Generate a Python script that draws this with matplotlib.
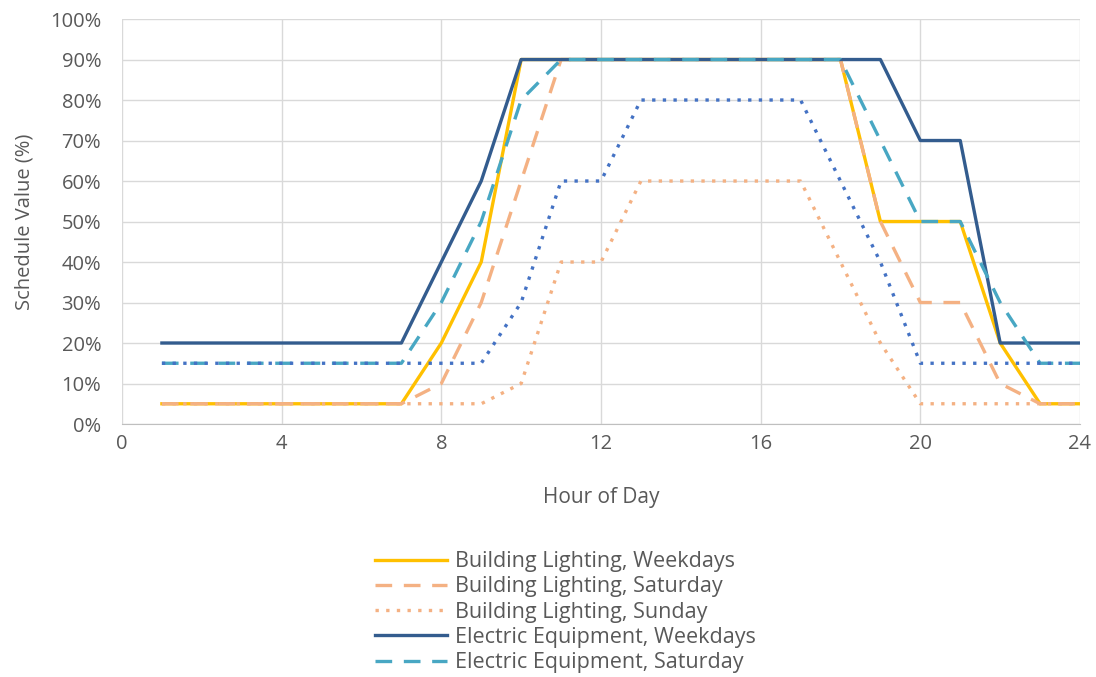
import matplotlib.pyplot as plt
from matplotlib.ticker import PercentFormatter

hours = list(range(1, 25))

light_weekday = [5, 5, 5, 5, 5, 5, 5, 20, 40, 90, 90, 90, 90, 90, 90, 90, 90, 90, 50, 50, 50, 20, 5, 5]
light_saturday = [5, 5, 5, 5, 5, 5, 5, 10, 30, 60, 90, 90, 90, 90, 90, 90, 90, 90, 50, 30, 30, 10, 5, 5]
light_sunday = [5, 5, 5, 5, 5, 5, 5, 5, 5, 10, 40, 40, 60, 60, 60, 60, 60, 40, 20, 5, 5, 5, 5, 5]
equip_weekday = [20, 20, 20, 20, 20, 20, 20, 40, 60, 90, 90, 90, 90, 90, 90, 90, 90, 90, 90, 70, 70, 20, 20, 20]
equip_saturday = [15, 15, 15, 15, 15, 15, 15, 30, 50, 80, 90, 90, 90, 90, 90, 90, 90, 90, 70, 50, 50, 30, 15, 15]
equip_sunday = [15, 15, 15, 15, 15, 15, 15, 15, 15, 30, 60, 60, 80, 80, 80, 80, 80, 60, 40, 15, 15, 15, 15, 15]

plt.rcParams['font.family'] = ['Open Sans', 'DejaVu Sans']
gray = '#595959'

fig = plt.figure(figsize=(10.96, 6.77), dpi=100)
ax = fig.add_axes([0.1113, 0.3737, 0.8741, 0.5982])

series = [
    (light_weekday, 'Building Lighting, Weekdays', '#FFC000', '-'),
    (light_saturday, 'Building Lighting, Saturday', '#F4B183', (0, (5, 3.5))),
    (light_sunday, 'Building Lighting, Sunday', '#F4B183', (0, (1, 2.2))),
    (equip_weekday, 'Electric Equipment, Weekdays', '#335C8E', '-'),
    (equip_saturday, 'Electric Equipment, Saturday', '#48A7C3', (0, (5, 3.5))),
    (equip_sunday, 'Electric Equipment, Sunday', '#4472C4', (0, (1, 2.2))),
]

lines = []
for vals, label, color, ls in series:
    ln, = ax.plot(hours, vals, color=color, linestyle=ls, lw=2.4, label=label)
    lines.append(ln)

ax.set_xlim(0, 24)
ax.set_ylim(0, 100)
ax.set_xticks(range(0, 25, 4))
ax.set_yticks(range(0, 101, 10))
ax.yaxis.set_major_formatter(PercentFormatter(decimals=0))
ax.grid(True, color='#D9D9D9', lw=1)
ax.set_axisbelow(True)
for s in ['top', 'right', 'left']:
    ax.spines[s].set_visible(False)
ax.spines['bottom'].set_color('#BFBFBF')
ax.tick_params(length=0, labelsize=14.5, colors=gray)
ax.tick_params(axis='x', pad=7)
ax.tick_params(axis='y', pad=15)
ax.set_xlabel('Hour of Day', fontsize=15, color=gray, labelpad=24)
ax.set_ylabel('Schedule Value (%)', fontsize=14.5, color=gray, labelpad=11)

# sixth series (Sunday equipment) falls below the cropped legend area
fig.legend(handles=lines[:5], loc='upper left', bbox_to_anchor=(0.342, 0.186),
           frameon=False, fontsize=15.5, labelcolor=gray, handlelength=3.35,
           handletextpad=0.37, labelspacing=0.2, borderaxespad=0, borderpad=0)

fig.savefig('out.png', dpi=100)
